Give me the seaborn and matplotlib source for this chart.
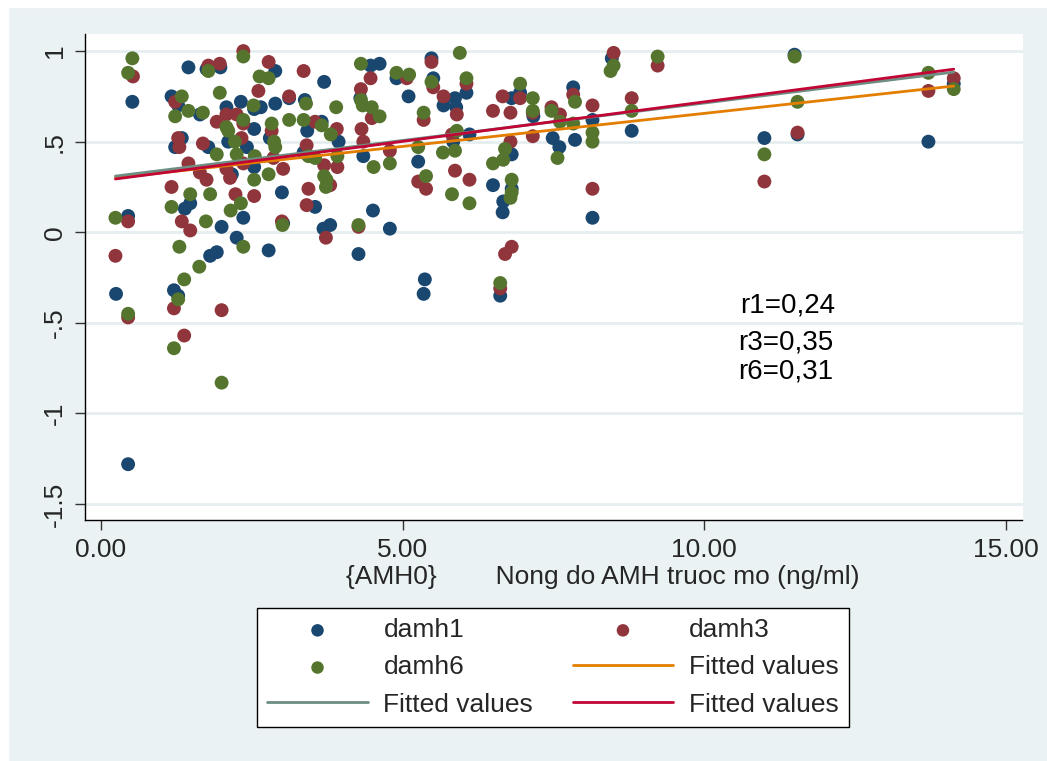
import numpy as np
import pandas as pd
import matplotlib
matplotlib.use('Agg')
import matplotlib.pyplot as plt
from matplotlib.patches import Rectangle
import seaborn as sns

# values
damh1_x = [0.52, 1.45, 1.75, 1.98, 1.17, 1.28, 2.08, 2.32, 2.54, 1.64, 2.11, 2.42, 2.54, 1.34, 1.23, 1.78,
           2.54, 2.17, 1.39, 1.48, 2.36, 0.45, 2.0, 2.25, 1.81, 1.92,
           2.89, 3.70, 4.47, 4.62, 4.90, 5.10, 2.65, 2.89, 3.12, 3.38, 2.80, 3.42, 3.66, 3.94, 4.30, 4.35,
           3.36, 3.0, 3.55, 4.51, 4.79, 3.80, 3.69, 3.02, 2.78, 4.27,
           5.48, 5.51, 5.68, 5.87, 6.06, 5.89, 6.81, 6.95, 7.17, 6.11, 5.84, 7.49, 7.60, 5.26, 6.81, 6.50,
           6.81, 6.67, 6.66,
           7.83, 8.47, 11.50, 8.15, 7.86, 8.80, 11.0, 11.55, 13.72, 14.14, 8.15,
           5.37, 5.35, 0.25, 1.21, 1.28, 0.45, 6.62]
damh1_y = [0.72, 0.91, 0.90, 0.91, 0.75, 0.70, 0.69, 0.72, 0.68, 0.65, 0.50, 0.47, 0.57, 0.52, 0.47, 0.47,
           0.36, 0.32, 0.13, 0.16, 0.08, 0.09, 0.03, -0.03, -0.13, -0.11,
           0.89, 0.83, 0.92, 0.93, 0.85, 0.75, 0.69, 0.71, 0.74, 0.73, 0.52, 0.56, 0.61, 0.50, 0.74, 0.42,
           0.44, 0.22, 0.14, 0.12, 0.02, 0.04, 0.02, 0.05, -0.10, -0.12,
           0.96, 0.85, 0.70, 0.74, 0.77, 0.69, 0.74, 0.77, 0.64, 0.54, 0.50, 0.52, 0.47, 0.39, 0.43, 0.26,
           0.24, 0.17, 0.11,
           0.80, 0.96, 0.98, 0.62, 0.51, 0.56, 0.52, 0.54, 0.50, 0.82, 0.08,
           -0.26, -0.34, -0.34, -0.32, -0.35, -1.28, -0.35]

damh3_x = [0.53, 2.36, 1.78, 1.97, 2.61, 1.23, 1.92, 2.08, 2.25, 2.36, 2.33, 1.28, 1.30, 1.69, 2.36, 1.45,
           1.64, 1.75, 2.14, 2.08, 1.17, 2.23, 2.54, 0.45, 1.34, 1.48, 0.24,
           2.78, 3.36, 3.12, 4.47, 4.31, 5.07, 3.55, 3.91, 2.83, 4.32, 4.49, 4.35, 3.41, 4.79, 2.86, 3.02,
           3.70, 3.92, 3.80, 3.44, 3.41, 3.0, 4.27, 3.73,
           5.48, 5.51, 6.06, 5.68, 5.90, 5.35, 6.66, 6.95, 6.50, 6.79, 7.16, 7.47, 7.61, 5.82, 7.16, 6.79,
           5.26, 5.39, 5.87, 6.11, 6.81, 6.70,
           8.50, 9.23, 7.83, 8.15, 8.80, 11.55, 13.72, 14.14, 8.15, 11.0,
           1.21, 2.0, 0.45, 1.38, 6.62]
damh3_y = [0.86, 1.0, 0.92, 0.93, 0.78, 0.72, 0.61, 0.65, 0.65, 0.60, 0.52, 0.52, 0.47, 0.49, 0.38, 0.38,
           0.33, 0.29, 0.30, 0.35, 0.25, 0.21, 0.20, 0.06, 0.06, 0.01, -0.13,
           0.94, 0.89, 0.75, 0.85, 0.79, 0.85, 0.61, 0.57, 0.56, 0.57, 0.63, 0.50, 0.48, 0.45, 0.41, 0.35,
           0.37, 0.36, 0.26, 0.24, 0.15, 0.06, 0.03, -0.03,
           0.94, 0.80, 0.82, 0.75, 0.65, 0.62, 0.75, 0.74, 0.67, 0.66, 0.66, 0.69, 0.65, 0.54, 0.53, 0.50,
           0.28, 0.24, 0.34, 0.29, -0.08, -0.12,
           0.99, 0.92, 0.76, 0.70, 0.74, 0.55, 0.78, 0.85, 0.24, 0.28,
           -0.42, -0.43, -0.47, -0.57, -0.31]

damh6_x = [0.52, 0.45, 2.36, 1.78, 2.63, 1.34, 1.97, 2.53, 1.45, 1.69, 1.23, 2.36, 2.11, 2.08, 2.22, 1.92,
           2.25, 2.55, 2.54, 1.48, 1.81, 2.32, 1.17, 2.15, 0.24, 1.74, 2.36, 1.30,
           4.31, 4.90, 5.11, 2.78, 3.40, 3.90, 4.31, 4.34, 4.49, 4.62, 3.12, 3.36, 2.83, 3.66, 3.81, 2.87,
           2.89, 3.44, 3.55, 3.92, 4.52, 4.79, 2.78, 3.70, 3.74, 3.73, 3.01, 4.27,
           5.95, 5.48, 6.06, 6.95, 7.16, 7.16, 7.47, 7.61, 5.35, 5.90, 5.26, 5.67, 5.87, 6.70, 6.67, 6.50,
           7.57, 5.39, 6.81, 6.81, 6.79, 5.82, 6.11,
           9.23, 8.45, 8.50, 11.50, 7.86, 7.83, 8.15, 8.15, 8.80, 11.55, 11.0, 13.72, 14.14,
           1.38, 1.63, 1.28, 0.45, 1.21, 2.0, 6.62]
damh6_y = [0.96, 0.88, 0.97, 0.89, 0.86, 0.75, 0.77, 0.70, 0.67, 0.66, 0.64, 0.62, 0.56, 0.58, 0.50, 0.43,
           0.43, 0.42, 0.29, 0.21, 0.21, 0.16, 0.14, 0.12, 0.08, 0.06, -0.08, -0.08,
           0.93, 0.88, 0.87, 0.85, 0.71, 0.69, 0.73, 0.70, 0.69, 0.64, 0.62, 0.62, 0.60, 0.59, 0.54, 0.50,
           0.47, 0.42, 0.41, 0.42, 0.36, 0.38, 0.32, 0.31, 0.29, 0.25, 0.04, 0.04,
           0.99, 0.83, 0.85, 0.82, 0.74, 0.67, 0.67, 0.61, 0.66, 0.56, 0.47, 0.44, 0.45, 0.46, 0.40, 0.38,
           0.41, 0.31, 0.29, 0.22, 0.19, 0.21, 0.16,
           0.97, 0.89, 0.92, 0.97, 0.72, 0.60, 0.55, 0.50, 0.67, 0.72, 0.43, 0.88, 0.79,
           -0.26, -0.19, -0.37, -0.45, -0.64, -0.83, -0.28]

# fitted lines (end points)
fit_x = [0.24, 14.14]
fit1_y = [0.300, 0.807]
fit3_y = [0.310, 0.884]
fit6_y = [0.294, 0.900]

x_ticks = [0, 5, 10, 15]
x_ticklabels = ['0.00', '5.00', '10.00', '15.00']
y_ticks = [1, 0.5, 0, -0.5, -1, -1.5]
y_ticklabels = ['1', '.5', '0', '-.5', '-1', '-1.5']
r_labels = ['r1=0,24', 'r3=0,35', 'r6=0,31']
r_pos_x = [10.60, 10.57, 10.56]
r_pos_y = [-0.444, -0.645, -0.806]

bg = '#eaf2f3'
navy, maroon, forest = '#1a476f', '#90353b', '#55752f'
dkorange, teal, cranberry = '#e37e00', '#6e8e84', '#c10534'

sns.set_style('white')
plt.rcParams['font.family'] = ['Liberation Sans', 'DejaVu Sans']

fig = plt.figure(figsize=(10.47, 7.61), dpi=100, facecolor=bg)
fig.patches.append(Rectangle((0, 1 - 7 / 761), 1, 7 / 761, transform=fig.transFigure,
                             color='white', zorder=0))
fig.patches.append(Rectangle((0, 0), 8 / 1047, 1, transform=fig.transFigure,
                             color='white', zorder=0))
ax = fig.add_axes([85 / 1047, 1 - 520 / 761, (1022.5 - 85) / 1047, (520 - 33.5) / 761])
ax.set_facecolor('white')

df1 = pd.DataFrame({'x': damh1_x, 'y': damh1_y})
df3 = pd.DataFrame({'x': damh3_x, 'y': damh3_y})
df6 = pd.DataFrame({'x': damh6_x, 'y': damh6_y})

sns.scatterplot(data=df1, x='x', y='y', color=navy, s=100, edgecolor='none', label='damh1', ax=ax, zorder=3)
sns.scatterplot(data=df3, x='x', y='y', color=maroon, s=100, edgecolor='none', label='damh3', ax=ax, zorder=3)
sns.scatterplot(data=df6, x='x', y='y', color=forest, s=100, edgecolor='none', label='damh6', ax=ax, zorder=3)
sns.lineplot(x=fit_x, y=fit1_y, color=dkorange, lw=2, label='Fitted values', ax=ax, zorder=4)
sns.lineplot(x=fit_x, y=fit3_y, color=teal, lw=2, label='Fitted values', ax=ax, zorder=4)
sns.lineplot(x=fit_x, y=fit6_y, color=cranberry, lw=2, label='Fitted values', ax=ax, zorder=4)

for lab, rx, ry in zip(r_labels, r_pos_x, r_pos_y):
    ax.text(rx, ry, lab, fontsize=20, va='baseline', ha='left', color='black')

ax.set_xlim(-0.265, 15.28)
ax.set_ylim(-1.588, 1.097)
ax.set_xticks(x_ticks)
ax.set_xticklabels(x_ticklabels, fontsize=19)
ax.set_yticks(y_ticks)
ax.set_yticklabels(y_ticklabels, fontsize=19, rotation=90, va='center')
ax.tick_params(axis='both', direction='out', length=7, width=1, color='#333333', pad=6,
               left=True, bottom=True)

ax.yaxis.grid(True, color='#e6eef0', lw=2)
ax.xaxis.grid(False)
ax.set_axisbelow(True)
for side in ['top', 'right']:
    ax.spines[side].set_visible(False)
for side in ['left', 'bottom']:
    ax.spines[side].set_color('black')
    ax.spines[side].set_linewidth(1)

ax.set_ylabel('')
ax.set_xlabel('{AMH0}        Nong do AMH truoc mo (ng/ml)', fontsize=19)
ax.xaxis.set_label_coords(0.552, -0.092)

handles, labels = ax.get_legend_handles_labels()
ax.get_legend().remove()
order = [0, 2, 4, 1, 3, 5]
leg = fig.legend([handles[i] for i in order], [labels[i] for i in order], ncol=2,
                 loc='center', bbox_to_anchor=(0.5282, 0.1229), fontsize=19,
                 frameon=True, fancybox=False, edgecolor='black', facecolor='white',
                 handlelength=3.8, handletextpad=0.6, columnspacing=1.5, labelspacing=0.5,
                 markerscale=0.9, borderpad=0.4)
leg.get_frame().set_linewidth(1)
leg.get_frame().set_alpha(1)

fig.savefig('out.png', dpi=100, facecolor=bg)
